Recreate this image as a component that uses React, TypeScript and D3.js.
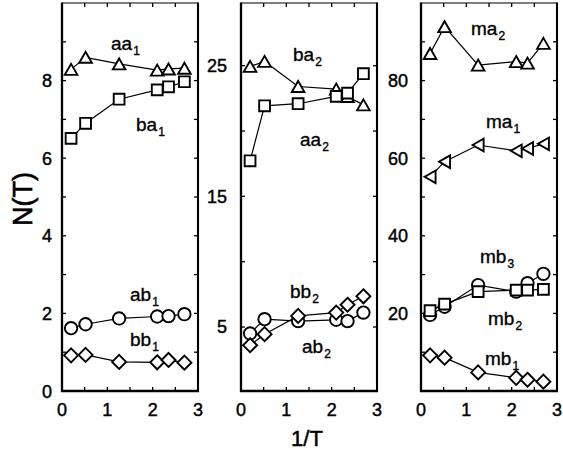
import React from "react";
import * as d3 from "d3";

// ---- data ----
const invT = [0.2, 0.52, 1.26, 2.1, 2.35, 2.7];

const aa1 = [8.29, 8.6, 8.43, 8.27, 8.3, 8.32];
const ba1 = [6.51, 6.9, 7.52, 7.76, 7.84, 7.97];
const ab1 = [1.62, 1.72, 1.87, 1.92, 1.93, 1.98];
const bb1 = [0.92, 0.93, 0.75, 0.74, 0.8, 0.73];

const tri2 = [24.95, 25.33, 23.41, 23.21, 22.64, 22.0];
const sq2 = [17.72, 21.93, 22.09, 22.65, 22.9, 24.39];
const circ2 = [4.5, 5.6, 5.45, 5.55, 5.45, 6.1];
const diam2 = [3.6, 4.45, 5.85, 6.1, 6.7, 7.35];

const ma2 = [87.0, 93.9, 84.0, 84.9, 84.5, 89.6];
const ma1 = [55.2, 59.1, 63.4, 61.9, 62.5, 63.7];
const mb3 = [19.6, 21.7, 27.3, 25.6, 27.8, 30.2];
const mb2 = [20.7, 22.4, 25.6, 26.0, 26.0, 26.2];
const mb1 = [9.2, 8.6, 4.8, 3.4, 2.9, 2.4];

const xTicks = [0, 1, 2, 3];
const yTicks1 = [0, 2, 4, 6, 8];
const yTicks2 = [5, 15, 25];
const yTicks3 = [20, 40, 60, 80];

// ---- layout ----
const W = 563, H = 453;
const TOP = 3, BOTTOM = 391;
const FONT = "'Liberation Sans', Arial, Helvetica, sans-serif";
const TXT = { fontFamily: FONT, fill: "#000", stroke: "#000", strokeWidth: 0.45 } as const;

type Series = { vals: number[]; marker: string };
type Label = { base: string; sub: string; x: number; y: number };
type Panel = {
  x0: number; x1: number; ydom: [number, number];
  ticks: number[]; minor: number[]; labelGap: number;
  series: Series[]; labels: Label[];
};

const panels: Panel[] = [
  {
    x0: 62, x1: 198, ydom: [0, 10], ticks: yTicks1,
    minor: [1, 2, 3, 4, 5, 6, 7, 8, 9], labelGap: 10,
    series: [
      { vals: aa1, marker: "tri" },
      { vals: ba1, marker: "sq" },
      { vals: ab1, marker: "circ" },
      { vals: bb1, marker: "diam" },
    ],
    labels: [
      { base: "aa", sub: "1", x: 111, y: 50 },
      { base: "ba", sub: "1", x: 136, y: 131 },
      { base: "ab", sub: "1", x: 130, y: 301 },
      { base: "bb", sub: "1", x: 130, y: 346 },
    ],
  },
  {
    x0: 241, x1: 377, ydom: [0.1, 29.8], ticks: yTicks2,
    minor: [5, 10, 15, 20, 25], labelGap: 14,
    series: [
      { vals: tri2, marker: "tri" },
      { vals: sq2, marker: "sq" },
      { vals: circ2, marker: "circ" },
      { vals: diam2, marker: "diam" },
    ],
    labels: [
      { base: "ba", sub: "2", x: 293, y: 61 },
      { base: "aa", sub: "2", x: 300, y: 146 },
      { base: "bb", sub: "2", x: 290, y: 298 },
      { base: "ab", sub: "2", x: 302, y: 353 },
    ],
  },
  {
    x0: 421, x1: 557, ydom: [0, 100], ticks: yTicks3,
    minor: [10, 20, 30, 40, 50, 60, 70, 80, 90], labelGap: 13,
    series: [
      { vals: ma2, marker: "tri" },
      { vals: ma1, marker: "ltri" },
      { vals: mb3, marker: "circ" },
      { vals: mb2, marker: "sq" },
      { vals: mb1, marker: "diam" },
    ],
    labels: [
      { base: "ma", sub: "2", x: 471, y: 35 },
      { base: "ma", sub: "1", x: 486, y: 128 },
      { base: "mb", sub: "3", x: 480, y: 263 },
      { base: "mb", sub: "2", x: 488, y: 325 },
      { base: "mb", sub: "1", x: 485, y: 365 },
    ],
  },
];

function markerPath(type: string, cx: number, cy: number): string {
  switch (type) {
    case "tri": {
      const w = 6.3, h = 11;
      return `M${cx},${cy - h / 2}L${cx + w},${cy + h / 2}L${cx - w},${cy + h / 2}Z`;
    }
    case "ltri": {
      const w = 11, h = 6.3;
      return `M${cx - w / 2},${cy}L${cx + w / 2},${cy - h}L${cx + w / 2},${cy + h}Z`;
    }
    case "sq": {
      const s = 5.4;
      return `M${cx - s},${cy - s}h${2 * s}v${2 * s}h${-2 * s}Z`;
    }
    case "diam": {
      const s = 7;
      return `M${cx},${cy - s}L${cx + s},${cy}L${cx},${cy + s}L${cx - s},${cy}Z`;
    }
    default: {
      const r = 6.2;
      return `M${cx - r},${cy}a${r},${r} 0 1,0 ${2 * r},0a${r},${r} 0 1,0 ${-2 * r},0Z`;
    }
  }
}

function PanelView({ p }: { p: Panel }) {
  const x = d3.scaleLinear().domain([0, 3]).range([p.x0, p.x1]);
  const y = d3.scaleLinear().domain(p.ydom).range([BOTTOM, TOP]);
  const line = d3
    .line<number>()
    .x((_, i) => x(invT[i]))
    .y((v) => y(v));
  const xMinor = d3.range(0.5, 3, 0.5);
  const TL = 4;
  return (
    <g>
      {xMinor.map((t) => (
        <g key={"xt" + t}>
          <line x1={x(t)} x2={x(t)} y1={BOTTOM} y2={BOTTOM - TL} stroke="#000" strokeWidth={1.3} />
          <line x1={x(t)} x2={x(t)} y1={TOP} y2={TOP + TL} stroke="#000" strokeWidth={1.3} />
        </g>
      ))}
      {p.minor.map((t) => (
        <g key={"yt" + t}>
          <line x1={p.x0} x2={p.x0 + TL} y1={y(t)} y2={y(t)} stroke="#000" strokeWidth={1.3} />
          <line x1={p.x1} x2={p.x1 - TL} y1={y(t)} y2={y(t)} stroke="#000" strokeWidth={1.3} />
        </g>
      ))}
      <line x1={p.x0} x2={p.x1} y1={TOP} y2={TOP} stroke="#000" strokeWidth={1.2} />
      <line x1={p.x0} x2={p.x0} y1={TOP - 0.5} y2={BOTTOM + 1} stroke="#000" strokeWidth={2.3} />
      <line x1={p.x1} x2={p.x1} y1={TOP - 0.5} y2={BOTTOM + 1} stroke="#000" strokeWidth={2.1} />
      <line x1={p.x0 - 1} x2={p.x1 + 1} y1={BOTTOM} y2={BOTTOM} stroke="#000" strokeWidth={2.3} />
      {xTicks.map((t) => (
        <text key={"xl" + t} x={x(t)} y={416} textAnchor="middle" fontSize={18} {...TXT}>
          {t}
        </text>
      ))}
      {p.ticks.map((t) => (
        <text key={"yl" + t} x={p.x0 - p.labelGap} y={y(t) + 6.5} textAnchor="end" fontSize={18} {...TXT}>
          {t}
        </text>
      ))}
      {p.series.map((s, si) => (
        <g key={"s" + si}>
          <path d={line(s.vals) || ""} fill="none" stroke="#000" strokeWidth={1.2} />
          {s.vals.map((v, i) => (
            <path key={i} d={markerPath(s.marker, x(invT[i]), y(v))} fill="#fff" stroke="#000" strokeWidth={1.9} />
          ))}
        </g>
      ))}
      {p.labels.map((l, li) => (
        <text key={"lab" + li} x={l.x} y={l.y} fontSize={19} {...TXT} strokeWidth={0.35}>
          <tspan>{l.base}</tspan>
          <tspan dx={1} dy={4.5} fontSize={12}>{l.sub}</tspan>
        </text>
      ))}
    </g>
  );
}

export default function App() {
  return (
    <svg width={W} height={H} style={{ position: "absolute", left: 0, top: 0, background: "#fff" }}>
      <rect width={W} height={H} fill="#fff" />
      {panels.map((p, i) => (
        <PanelView key={i} p={p} />
      ))}
      <text transform={`translate(32,199) rotate(-90)`} textAnchor="middle" fontSize={27} {...TXT} strokeWidth={0.6}>
        N(T)
      </text>
      <text x={307} y={446} textAnchor="middle" fontSize={22} {...TXT} strokeWidth={0.5}>
        1/T
      </text>
    </svg>
  );
}
